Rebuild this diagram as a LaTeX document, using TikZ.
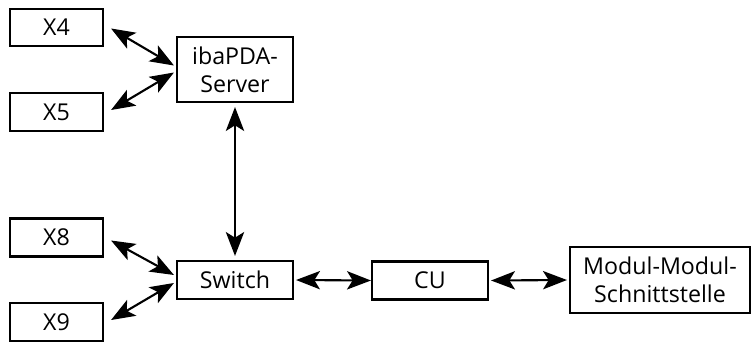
\documentclass[tikz,border=0pt]{standalone}
\usepackage{fontspec}
\setmainfont{Open Sans}
\usepackage{tikz}
\usetikzlibrary{arrows.meta,positioning}
\tikzstyle{box} = [draw, line width=1.5pt, align=center, inner sep=0pt, font=\fontsize{16.5}{20}\selectfont]
\tikzstyle{tip} = [line width=1.5pt, {Stealth[length=17pt,width=13pt,inset=4pt]}-{Stealth[length=17pt,width=13pt,inset=4pt]}]

\begin{document}
\begin{tikzpicture}[x=0.025cm, y=-0.025cm]
\useasboundingbox (0,0) rectangle (752,343);
% left inputs
\node[box, minimum width=93*0.025cm, minimum height=37*0.025cm] (x4) at (56.5,27.5) {X4};
\node[box, minimum width=93*0.025cm, minimum height=38*0.025cm] (x5) at (56.5,112) {X5};
\node[box, minimum width=93*0.025cm, minimum height=38*0.025cm] (x8) at (56.5,237.5) {X8};
\node[box, minimum width=93*0.025cm, minimum height=38*0.025cm] (x9) at (56.5,322) {X9};
% server, switch and the rest
\node[box, minimum width=116*0.025cm, minimum height=65*0.025cm] (srv) at (235,69.5) {ibaPDA-\\Server};
\node[box, minimum width=116*0.025cm, minimum height=38*0.025cm] (sw) at (235,280) {Switch};
\node[box, minimum width=116*0.025cm, minimum height=38*0.025cm] (cu) at (430,280.5) {CU};
\node[box, minimum width=180*0.025cm, minimum height=66*0.025cm] (mm) at (660,280) {Modul-Modul-\\Schnittstelle};

\draw[tip] ([shift={(7,1)}]x4.east) -- ([shift={(-2,-4)}]srv.west);
\draw[tip] ([shift={(7,-2)}]x5.east) -- ([shift={(-2,3)}]srv.west);
\draw[tip] ([shift={(7,3)}]x8.east) -- ([shift={(-2,-5)}]sw.west);
\draw[tip] ([shift={(7,-2)}]x9.east) -- ([shift={(-2,3)}]sw.west);
\draw[tip] ([shift={(0,4)}]srv.south) -- ([shift={(0,-4)}]sw.north);
\draw[tip] ([shift={(2,0)}]sw.east) -- (cu.west);
\draw[tip] ([shift={(2,0)}]cu.east) -- ([shift={(-2,0)}]mm.west);
\end{tikzpicture}
\end{document}
